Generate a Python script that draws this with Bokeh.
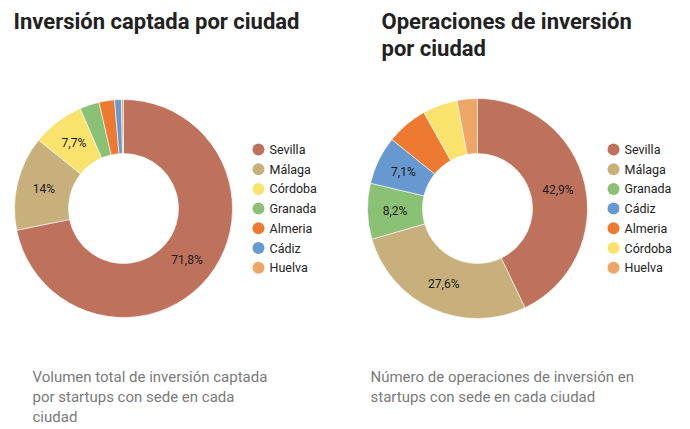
import math
from bokeh.plotting import figure
from bokeh.models import Range1d, ColumnDataSource
from bokeh.core.properties import value
from bokeh.embed import file_html
from bokeh.resources import INLINE

# ---- data ----
cities_left = ["Sevilla", "Málaga", "Córdoba", "Granada", "Almeria", "Cádiz", "Huelva"]
invest_pct = [71.8, 14.0, 7.7, 2.9, 2.3, 1.0, 0.3]

cities_right = ["Sevilla", "Málaga", "Granada", "Cádiz", "Almeria", "Córdoba", "Huelva"]
ops_pct = [42.9, 27.6, 8.2, 7.1, 6.1, 5.1, 3.0]

city_colors = {
    "Sevilla": "#BE725B",
    "Málaga": "#C8B07C",
    "Córdoba": "#F9E36D",
    "Granada": "#8BC174",
    "Almeria": "#EE7A31",
    "Cádiz": "#6798D0",
    "Huelva": "#EDA666",
}

title_left = ["Inversión captada por ciudad"]
title_right = ["Operaciones de inversión", "por ciudad"]
caption_left = ["Volumen total de inversión captada", "por startups con sede en cada", "ciudad"]
caption_right = ["Número de operaciones de inversión en", "startups con sede en cada ciudad"]

# ---- figure (data units == screen pixels; y measured from bottom) ----
W, H = 690, 429
p = figure(width=W, height=H, output_backend="svg", toolbar_location=None,
           x_range=Range1d(0, W), y_range=Range1d(0, H),
           min_border=0)
p.axis.visible = False
p.grid.visible = False
p.outline_line_color = None
p.background_fill_color = "white"

def Y(s):
    return H - s

FONT = value("Roboto")

def fmt(v):
    if abs(v - round(v)) < 1e-9:
        return f"{int(round(v))}%"
    return f"{v:.1f}".replace(".", ",") + "%"

def donut(cx, cy, names, vals, r_in, r_out, label_min):
    total = sum(vals)
    starts, ends, colors, lx, ly, lt = [], [], [], [], [], []
    cum = 0.0
    for n, v in zip(names, vals):
        a0 = math.pi / 2 - 2 * math.pi * cum / total
        cum += v
        a1 = math.pi / 2 - 2 * math.pi * cum / total
        starts.append(a0)
        ends.append(a1)
        colors.append(city_colors[n])
        if v >= label_min:
            am = (a0 + a1) / 2
            rm = (r_in + r_out) / 2
            lx.append(cx + rm * math.cos(am))
            ly.append(Y(cy) + rm * math.sin(am))
            lt.append(fmt(v))
    src = ColumnDataSource(dict(x=[cx] * len(vals), y=[Y(cy)] * len(vals),
                                s=starts, e=ends, c=colors))
    p.annular_wedge(x="x", y="y", inner_radius=r_in, outer_radius=r_out,
                    inner_radius_units="screen", outer_radius_units="screen",
                    start_angle="s", end_angle="e", direction="clock",
                    fill_color="c", line_color="white", line_width=0.6, source=src)
    p.text(x=lx, y=ly, text=lt, text_font=FONT, text_font_size="12px",
           text_color="#1a1a1a", text_align="center", text_baseline="middle")

def legend(x0, y0, names, step=19.7):
    ys = [Y(y0 + i * step) for i in range(len(names))]
    p.scatter(x=[x0] * len(names), y=ys, size=12, marker="circle",
              fill_color=[city_colors[n] for n in names], line_color=None)
    p.text(x=[x0 + 11] * len(names), y=ys, text=names, text_font=FONT,
           text_font_size="12.5px", text_color="#222222", text_align="left",
           text_baseline="middle")

donut(123, 208, cities_left, invest_pct, 55, 109, 7.0)
donut(477, 208, cities_right, ops_pct, 55, 110, 7.0)
legend(258, 149, cities_left)
legend(613, 149, cities_right)

def block(x, y0, lines, size, color, style, step):
    p.text(x=[x] * len(lines), y=[Y(y0 + i * step) for i in range(len(lines))],
           text=lines, text_font=FONT, text_font_size=size, text_color=color,
           text_font_style=style, text_align="left", text_baseline="middle")

block(13, 21, title_left, "22px", "#222222", "bold", 27)
block(381, 21, title_right, "22px", "#222222", "bold", 27)
block(32, 376, caption_left, "15px", "#7a7a7a", "normal", 20)
block(370, 376, caption_right, "15px", "#7a7a7a", "normal", 20)

open("out.html", "w").write(file_html(p, INLINE))
